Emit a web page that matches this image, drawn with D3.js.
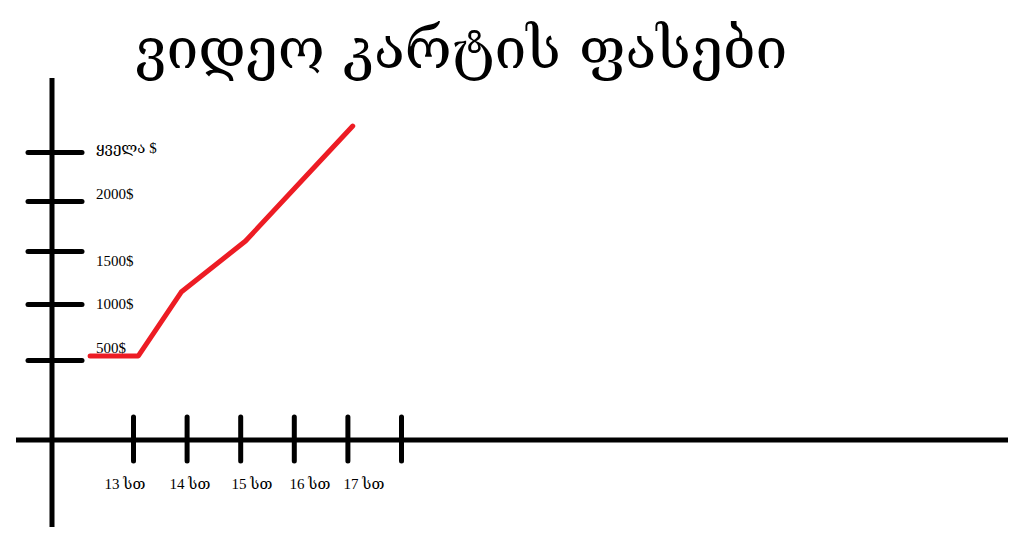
<!DOCTYPE html>
<html>
<head>
<meta charset="utf-8">
<script src="https://cdn.jsdelivr.net/npm/d3@7"></script>
<style>
  body { margin: 0; background: #fff; }
</style>
</head>
<body>
<div id="chart"></div>
<script>
// ვიდეო კარტის ფასები - hand drawn style line chart

var title = "ვიდეო კარტის ფასები";

// x axis: hours
var hourTicks = [13, 14, 15, 16, 17, 18];
var hourLabels = ["13 სთ", "14 სთ", "15 სთ", "16 სთ", "17 სთ"];

// y axis: price
var priceTicks = [500, 1000, 1500, 2000, 2500];
var priceLabels = ["500$", "1000$", "1500$", "2000$", "ყველა $"];

// the red price line
var lineHours = [12.2, 13.1, 13.9, 15.1, 17.1];
var linePrices = [536, 536, 1113, 1600, 2765];

var width = 1017, height = 558;
var ink = "#000", red = "#ed1c24";

var svg = d3.select("#chart")
    .append("svg")
    .attr("width", width)
    .attr("height", height);

var x = d3.scaleLinear()
    .domain([13, 18])
    .range([133, 401]);

// hand drawn ticks are not evenly spaced
var y = d3.scaleLinear()
    .domain(priceTicks)
    .range([360, 304, 251, 201, 152]);

// labels were placed by hand, a bit off the ticks
var xLabel = d3.scaleOrdinal().domain(hourLabels).range([125, 190, 252, 310, 364]);
var yLabel = d3.scaleOrdinal().domain(priceLabels).range([353, 309, 266, 199, 153]);

var axisY = 440, axisX = 52;

// main axis lines
svg.append("line")
    .attr("x1", 16).attr("x2", 1008)
    .attr("y1", axisY).attr("y2", axisY)
    .attr("stroke", ink).attr("stroke-width", 5);

svg.append("line")
    .attr("x1", axisX).attr("x2", axisX)
    .attr("y1", 78).attr("y2", 527)
    .attr("stroke", ink).attr("stroke-width", 5);

// ticks crossing the axes (axis shifted back by half the tick size)
var xAxis = svg.append("g")
    .attr("transform", "translate(0," + (axisY - 23) + ")")
    .call(d3.axisBottom(x).tickValues(hourTicks).tickSize(44).tickFormat(""));
xAxis.select(".domain").remove();
xAxis.selectAll(".tick line")
    .attr("stroke", ink).attr("stroke-width", 5).attr("stroke-linecap", "round");

var yAxis = svg.append("g")
    .attr("transform", "translate(" + (axisX + 30) + ",0)")
    .call(d3.axisLeft(y).tickValues(priceTicks).tickSize(54).tickFormat(""));
yAxis.select(".domain").remove();
yAxis.selectAll(".tick line")
    .attr("stroke", ink).attr("stroke-width", 5).attr("stroke-linecap", "round");

// tick labels
svg.append("g")
    .selectAll("text")
    .data(hourLabels)
    .enter()
    .append("text")
    .attr("x", d => xLabel(d))
    .attr("y", 489)
    .attr("text-anchor", "middle")
    .attr("font-family", "Liberation Serif, DejaVu Serif, serif")
    .attr("font-size", "15px")
    .text(d => d);

svg.append("g")
    .selectAll("text")
    .data(priceLabels)
    .enter()
    .append("text")
    .attr("x", 96)
    .attr("y", d => yLabel(d))
    .attr("font-family", "Liberation Serif, DejaVu Serif, serif")
    .attr("font-size", "15px")
    .text(d => d);

// price line
var line = d3.line()
    .x((d, i) => x(lineHours[i]))
    .y(d => y(d));

svg.append("path")
    .datum(linePrices)
    .attr("d", line)
    .attr("fill", "none")
    .attr("stroke", red)
    .attr("stroke-width", 5)
    .attr("stroke-linecap", "round")
    .attr("stroke-linejoin", "round");

// title
svg.append("text")
    .attr("x", 461)
    .attr("y", 68)
    .attr("text-anchor", "middle")
    .attr("font-family", "DejaVu Serif, serif")
    .attr("font-size", "57px")
    .text(title);
</script>
</body>
</html>
